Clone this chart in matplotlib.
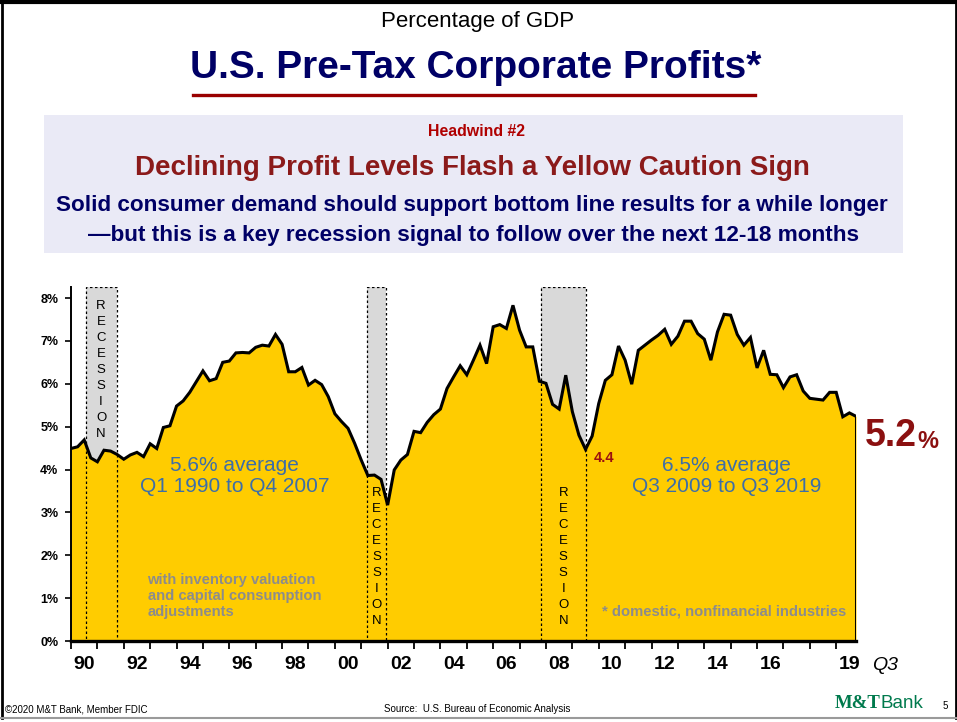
import numpy as np
import matplotlib
matplotlib.use("Agg")
import matplotlib.pyplot as plt
from matplotlib.patches import Rectangle
from matplotlib.lines import Line2D

plt.rcParams['font.family'] = ['Liberation Sans', 'DejaVu Sans']

# pre-tax corporate profits, % of GDP, quarterly 1990 -> 2019 Q3
profit_pct = [
    4.49, 4.53, 4.69, 4.27, 4.18, 4.45, 4.43, 4.35, 4.24, 4.34,
    4.40, 4.30, 4.60, 4.49, 4.98, 5.02, 5.48, 5.60, 5.80, 6.05,
    6.30, 6.07, 6.12, 6.50, 6.53, 6.72, 6.73, 6.72, 6.85, 6.90,
    6.88, 7.15, 6.92, 6.28, 6.28, 6.38, 5.97, 6.08, 5.98, 5.70,
    5.30, 5.12, 4.96, 4.61, 4.22, 3.86, 3.87, 3.77, 3.17, 3.99,
    4.22, 4.35, 4.89, 4.86, 5.10, 5.28, 5.41, 5.89, 6.16, 6.42,
    6.21, 6.55, 6.90, 6.47, 7.33, 7.38, 7.29, 7.83, 7.25, 6.86,
    6.86, 6.06, 6.01, 5.52, 5.41, 6.20, 5.35, 4.80, 4.47, 4.78,
    5.54, 6.08, 6.21, 6.88, 6.55, 5.99, 6.78, 6.90, 7.02, 7.13,
    7.27, 6.92, 7.11, 7.46, 7.46, 7.17, 7.04, 6.55, 7.21, 7.62,
    7.60, 7.15, 6.90, 7.08, 6.37, 6.78, 6.22, 6.21, 5.91, 6.16,
    6.21, 5.83, 5.66, 5.64, 5.62, 5.80, 5.80, 5.23, 5.32, 5.24,
]
recessions = [(1990.55, 1991.73), (2001.22, 2001.93), (2007.81, 2009.5)]
year_ticks = list(range(1990, 2020))
label_years = [1990, 1992, 1994, 1996, 1998, 2000, 2002, 2004, 2006, 2008,
               2010, 2012, 2014, 2016, 2019]
label_text = ['90', '92', '94', '96', '98', '00', '02', '04', '06', '08',
              '10', '12', '14', '16', '19']
y_ticks = [0, 1, 2, 3, 4, 5, 6, 7, 8]

W, H = 957, 722
NAVY = '#000066'
BLUE = '#3d6ea8'
GRAY = '#8c8c8c'
GOLD = '#ffcc00'


def fx(x):
    return x / W


def fy(y):
    return 1 - y / H


fig = plt.figure(figsize=(W / 100, H / 100), dpi=100)

# slide frame
for xs, ys, c, lw in [([1.5, 1.5], [1, 718], 'black', 2), ([955.5, 955.5], [1, 718], 'black', 2),
                      ([0, 957], [1.5, 1.5], 'black', 3), ([0, 957], [718, 718], '#9a9a9a', 1.5)]:
    fig.add_artist(Line2D([fx(v) for v in xs], [fy(v) for v in ys], color=c, lw=lw))

# header
fig.text(fx(478), fy(22), 'Percentage of GDP', ha='center', va='center', fontsize=16)
fig.text(fx(476), fy(68), 'U.S. Pre-Tax Corporate Profits*', ha='center', va='center',
         fontsize=28, fontweight='bold', color=NAVY)
fig.add_artist(Line2D([fx(193), fx(755)], [fy(95), fy(95)], color='#990000', lw=2.4))

fig.add_artist(Rectangle((fx(44), fy(253)), fx(859), 138 / H, transform=fig.transFigure,
                         facecolor='#eaeaf6', edgecolor='none'))
fig.text(fx(477), fy(131), 'Headwind #2', ha='center', va='center', fontsize=11.4,
         fontweight='bold', color='#b00000')
fig.text(fx(472), fy(168), 'Declining Profit Levels Flash a Yellow Caution Sign', ha='center',
         va='center', fontsize=20, fontweight='bold', color='#8b1a1a')
fig.text(fx(472), fy(206), 'Solid consumer demand should support bottom line results for a while longer',
         ha='center', va='center', fontsize=16.2, fontweight='bold', color=NAVY)
fig.text(fx(474), fy(236), '\u2014but this is a key recession signal to follow over the next 12-18 months',
         ha='center', va='center', fontsize=16.2, fontweight='bold', color=NAVY)

# chart
ax = fig.add_axes([fx(71), fy(641), 785 / W, (641 - 287.3) / H])
x = np.linspace(1990, 2019.75, len(profit_pct))
y = np.array(profit_pct)

for a, b in recessions:
    ax.axvspan(a, b, facecolor='#d9d9d9', edgecolor='none', zorder=1)
    ax.add_patch(Rectangle((a, 0), b - a, 8.25, facecolor='none', edgecolor='black',
                           lw=0.9, linestyle=(0, (2, 2)), zorder=3))

ax.fill_between(x, 0, y, color=GOLD, zorder=2, lw=0)
ax.plot(x, y, color='black', lw=2.2, zorder=4, solid_joinstyle='miter')
ax.vlines(x[-1], 0, y[-1], color='black', lw=2.2, zorder=4)

ax.set_xlim(1990, 2019.75)
ax.set_ylim(0, 8.25)
for s in ['top', 'right']:
    ax.spines[s].set_visible(False)
ax.spines['bottom'].set_linewidth(2.4)
ax.spines['left'].set_linewidth(1.4)

ax.set_xticks(year_ticks)
ax.set_xticklabels([])
ax.tick_params(axis='x', direction='out', length=6, width=1.3)
ax.set_xticks([yr + 0.5 for yr in label_years], minor=True)
ax.set_xticklabels(label_text, minor=True, fontsize=14, fontweight='bold')
ax.tick_params(axis='x', which='minor', length=0, pad=11)

ax.set_yticks(y_ticks)
ax.set_yticklabels([f'{v}%' for v in y_ticks], fontsize=9, fontweight='bold')
ax.tick_params(axis='y', direction='out', length=4, width=1.2, pad=5)

ax.text(2020.35, -0.57, 'Q3', fontsize=14, style='italic', ha='left', va='center',
        clip_on=False)


# recession labels
def vertical_word(xc, y0, step=0.373):
    for k, ch in enumerate('RECESSION'):
        ax.text(xc, y0 - k * step, ch, ha='center', va='center', fontsize=9.5, zorder=5)


vertical_word(sum(recessions[0]) / 2, 7.82)
vertical_word(sum(recessions[1]) / 2, 3.45)
vertical_word(sum(recessions[2]) / 2, 3.45)

ax.text(1996.2, 3.85, '5.6% average\nQ1 1990 to Q4 2007', ha='center', va='center',
        fontsize=15, color=BLUE, linespacing=1.15, zorder=5)
ax.text(2014.85, 3.85, '6.5% average\nQ3 2009 to Q3 2019', ha='center', va='center',
        fontsize=15, color=BLUE, linespacing=1.15, zorder=5)
ax.text(1992.9, 1.05, 'with inventory valuation\nand capital consumption\nadjustments',
        ha='left', va='center', fontsize=10.6, fontweight='bold', color=GRAY,
        linespacing=1.15, zorder=5)
ax.text(2014.75, 0.68, '* domestic, nonfinancial industries', ha='center', va='center',
        fontsize=10.6, fontweight='bold', color=GRAY, zorder=5)
ax.text(2009.8, 4.28, '4.4', ha='left', va='center', fontsize=10.5, fontweight='bold',
        color='#9b1010', zorder=5)

fig.text(fx(865), fy(436), '5.2', ha='left', va='center', fontsize=27, fontweight='bold',
         color='#8b1010')
fig.text(fx(917), fy(441), '%', ha='left', va='center', fontsize=17, fontweight='bold',
         color='#8b1010')

# footer
fig.text(fx(5), fy(709), '\u00a92020 M&T Bank, Member FDIC', ha='left', va='center', fontsize=7)
fig.text(fx(477), fy(709), 'Source:  U.S. Bureau of Economic Analysis', ha='center', va='center',
         fontsize=7)
fig.text(fx(835), fy(703), 'M&T', ha='left', va='center', fontsize=13.5, fontweight='bold',
         family=['Liberation Serif'], color='#007a4d')
fig.text(fx(880), fy(703), 'Bank', ha='left', va='center', fontsize=13.5, color='#007a4d')
fig.text(fx(945), fy(706), '5', ha='center', va='center', fontsize=7)

fig.savefig('out.png', dpi=100)
